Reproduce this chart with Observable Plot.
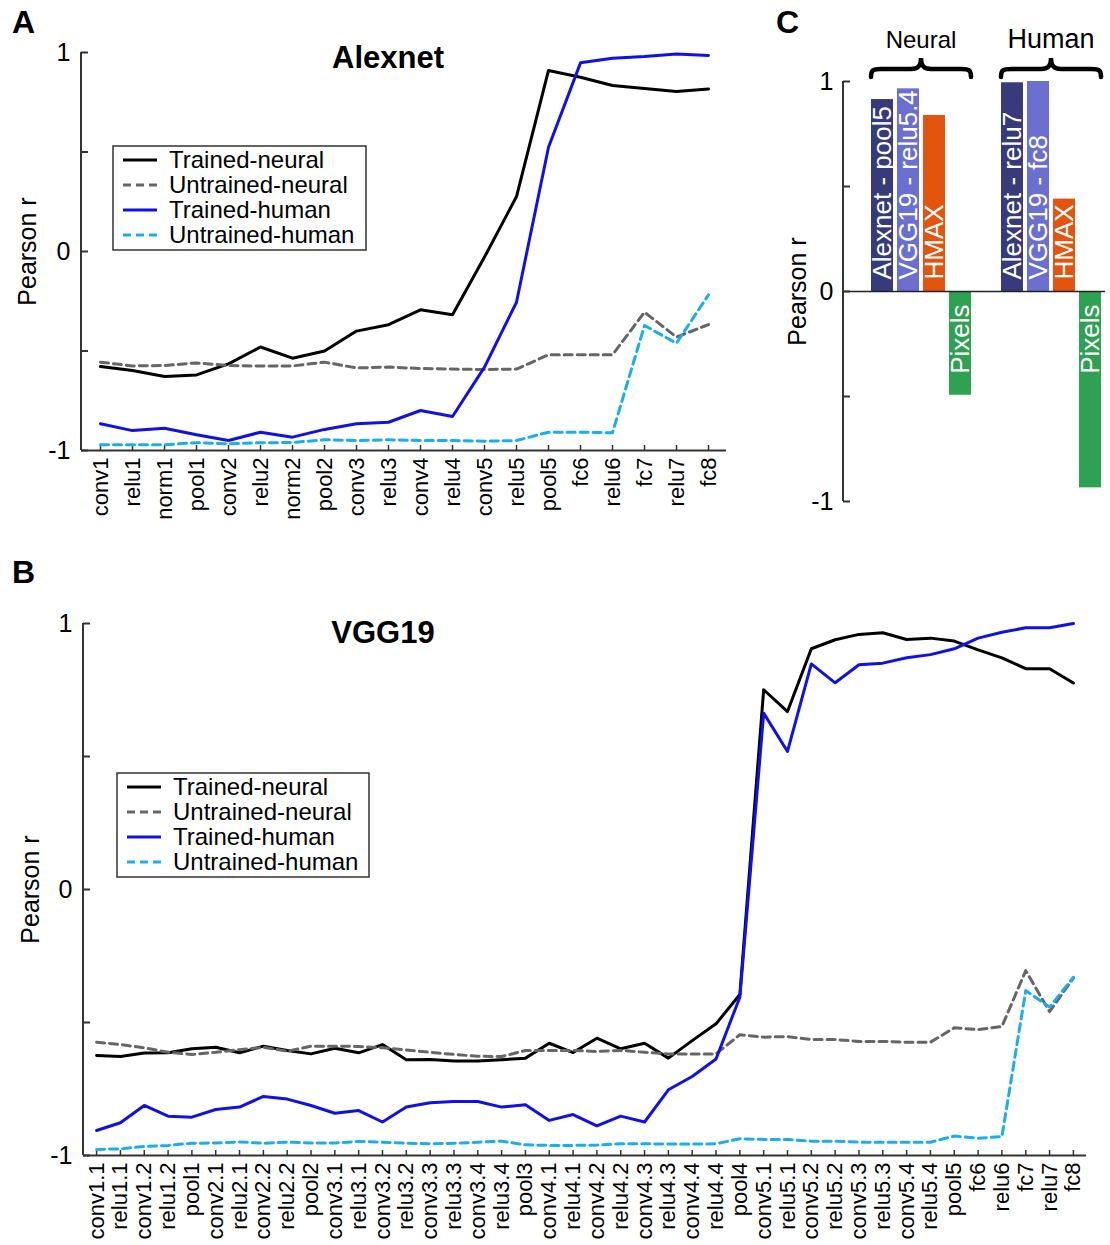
<!DOCTYPE html>
<html><head><meta charset="utf-8">
<script src="https://cdn.jsdelivr.net/npm/d3@7"></script>
<script src="https://cdn.jsdelivr.net/npm/@observablehq/plot@0.6"></script>
<style>
body{margin:0;background:#fff;font-family:"Liberation Sans",Arial,Helvetica,sans-serif;}
#root{position:relative;width:1110px;height:1245px;overflow:hidden;background:#fff;}
#root > svg{position:absolute;}
</style></head>
<body><div id="root"></div>
<script>
const FONT = "Liberation Sans, Arial, Helvetica, sans-serif";

// ---------- Panel A: Alexnet ----------
const alexLayers = ["conv1","relu1","norm1","pool1","conv2","relu2","norm2","pool2","conv3","relu3","conv4","relu4","conv5","relu5","pool5","fc6","relu6","fc7","relu7","fc8"];
const alexTrainedNeural   = [-0.578,-0.598,-0.628,-0.620,-0.565,-0.480,-0.536,-0.500,-0.400,-0.368,-0.293,-0.318,-0.028,0.276,0.910,0.876,0.834,0.819,0.804,0.817];
const alexUntrainedNeural = [-0.556,-0.575,-0.573,-0.560,-0.573,-0.576,-0.575,-0.556,-0.585,-0.581,-0.588,-0.591,-0.593,-0.591,-0.519,-0.519,-0.519,-0.305,-0.430,-0.367];
const alexTrainedHuman    = [-0.866,-0.900,-0.888,-0.921,-0.950,-0.908,-0.933,-0.894,-0.866,-0.858,-0.799,-0.829,-0.581,-0.255,0.524,0.948,0.971,0.980,0.993,0.985];
const alexUntrainedHuman  = [-0.971,-0.971,-0.971,-0.961,-0.966,-0.961,-0.960,-0.946,-0.950,-0.946,-0.950,-0.950,-0.953,-0.950,-0.908,-0.908,-0.911,-0.372,-0.461,-0.218];

// ---------- Panel B: VGG19 ----------
const vggLayers = ["conv1.1","relu1.1","conv1.2","relu1.2","pool1","conv2.1","relu2.1","conv2.2","relu2.2","pool2","conv3.1","relu3.1","conv3.2","relu3.2","conv3.3","relu3.3","conv3.4","relu3.4","pool3","conv4.1","relu4.1","conv4.2","relu4.2","conv4.3","relu4.3","conv4.4","relu4.4","pool4","conv5.1","relu5.1","conv5.2","relu5.2","conv5.3","relu5.3","conv5.4","relu5.4","pool5","fc6","relu6","fc7","relu7","fc8"];
const vggTrainedNeural   = [-0.624,-0.628,-0.615,-0.614,-0.599,-0.593,-0.614,-0.589,-0.605,-0.618,-0.597,-0.614,-0.583,-0.640,-0.639,-0.645,-0.645,-0.640,-0.634,-0.578,-0.613,-0.559,-0.599,-0.578,-0.634,-0.568,-0.505,-0.395,0.751,0.669,0.905,0.939,0.959,0.965,0.940,0.945,0.934,0.901,0.871,0.830,0.830,0.776];
const vggUntrainedNeural = [-0.574,-0.583,-0.595,-0.612,-0.620,-0.612,-0.602,-0.593,-0.608,-0.589,-0.589,-0.590,-0.595,-0.603,-0.612,-0.620,-0.627,-0.628,-0.605,-0.605,-0.605,-0.609,-0.605,-0.612,-0.618,-0.618,-0.618,-0.546,-0.555,-0.553,-0.564,-0.564,-0.571,-0.571,-0.574,-0.574,-0.520,-0.527,-0.515,-0.305,-0.459,-0.333];
const vggTrainedHuman    = [-0.906,-0.877,-0.812,-0.852,-0.856,-0.827,-0.818,-0.778,-0.788,-0.812,-0.841,-0.831,-0.874,-0.818,-0.802,-0.797,-0.797,-0.818,-0.809,-0.868,-0.846,-0.889,-0.852,-0.874,-0.753,-0.703,-0.637,-0.405,0.663,0.519,0.848,0.777,0.845,0.851,0.871,0.883,0.905,0.945,0.967,0.984,0.984,1.000];
const vggUntrainedHuman  = [-0.977,-0.975,-0.966,-0.962,-0.954,-0.953,-0.949,-0.954,-0.950,-0.953,-0.953,-0.947,-0.950,-0.954,-0.956,-0.954,-0.950,-0.946,-0.960,-0.962,-0.962,-0.961,-0.956,-0.956,-0.957,-0.957,-0.956,-0.937,-0.940,-0.940,-0.946,-0.946,-0.950,-0.950,-0.950,-0.950,-0.927,-0.935,-0.929,-0.380,-0.442,-0.330];

// ---------- Panel C: best layers ----------
const cGroups = ["Neural","Neural","Neural","Neural","Human","Human","Human","Human"];
const cModels = ["Alexnet","VGG19","HMAX","Pixels","Alexnet","VGG19","HMAX","Pixels"];
const cLabels = ["Alexnet - pool5","VGG19 - relu5.4","HMAX","Pixels","Alexnet - relu7","VGG19 - fc8","HMAX","Pixels"];
const cValues = [0.914,0.965,0.838,-0.494,0.994,1.000,0.440,-0.935];
const cColors = {Alexnet:"#383b7b", VGG19:"#6b6fd0", HMAX:"#e3540f", Pixels:"#2fa153"};

const seriesNames = ["Trained-neural","Untrained-neural","Trained-human","Untrained-human"];
const seriesColors = ["#000000","#666666","#1010e8","#1aaef0"];
const seriesDash = [null,"8,5",null,"8,5"];

const root = document.getElementById("root");
const NS = "http://www.w3.org/2000/svg";

function leftLine(index, scales, values, dims) {
  const l = document.createElementNS(NS, "line");
  l.setAttribute("x1", dims.marginLeft); l.setAttribute("x2", dims.marginLeft);
  l.setAttribute("y1", dims.marginTop); l.setAttribute("y2", dims.height - dims.marginBottom);
  l.setAttribute("stroke", "#333"); l.setAttribute("stroke-width", 2);
  return l;
}

function linePanel(layers, arrays, o) {
  const marks = [
    Plot.ruleY([-1], {stroke:"#333", strokeWidth:2}),
    leftLine,
    Plot.axisY({ticks:[-1,-0.5,0,0.5,1], tickSize:7, dx:7, tickFormat:() => "", label:null, stroke:"#333", strokeWidth:2}),
    Plot.axisY({ticks:[-1,0,1], tickSize:0, tickPadding:11, tickFormat:d => String(d), label:null, fontSize:25}),
    Plot.axisX({tickSize:5, dy:-5, tickFormat:() => "", label:null, stroke:"#333", strokeWidth:1.5}),
    Plot.axisX({tickSize:0, tickPadding:7, tickRotate:-90, label:null, fontSize:22}),
    Plot.text(["Pearson r"], {text:d => d, frameAnchor:"left", dx:o.labelDx, rotate:-90, textAnchor:"middle", lineAnchor:"middle", fontSize:25})
  ];
  arrays.forEach((vals, i) => {
    const data = layers.map((l, j) => ({layer:l, value:vals[j]}));
    const opts = {x:"layer", y:"value", stroke:seriesColors[i], strokeWidth:3};
    if (seriesDash[i]) opts.strokeDasharray = seriesDash[i];
    marks.push(Plot.line(data, opts));
  });
  const svg = Plot.plot({
    width:o.width, height:o.height,
    marginLeft:o.ml, marginRight:o.mr, marginTop:o.mt, marginBottom:o.mb,
    style:{fontFamily:FONT, fontSize:"22px", background:"transparent", overflow:"visible", color:"#000"},
    x:{type:"point", domain:layers, padding:o.padding},
    y:{domain:[-1,1]},
    marks
  });
  svg.style.left = o.left + "px"; svg.style.top = o.top + "px";
  root.appendChild(svg);
}

linePanel(alexLayers, [alexTrainedNeural, alexUntrainedNeural, alexTrainedHuman, alexUntrainedHuman],
  {left:0, top:0, width:740, height:520, ml:81, mr:14, mt:52, mb:70, padding:0.53, labelDx:-54});

linePanel(vggLayers, [vggTrainedNeural, vggUntrainedNeural, vggTrainedHuman, vggUntrainedHuman],
  {left:0, top:560, width:1110, height:685, ml:83, mr:24, mt:63, mb:90, padding:0.55, labelDx:-53});

// ---------- Panel C plot ----------
const cData = cValues.map((v, i) => ({key:cGroups[i] + " " + cModels[i], group:cGroups[i], model:cModels[i], label:cLabels[i], value:v, color:cColors[cModels[i]]}));
const cDomain = [...cData.filter(d => d.group === "Neural").map(d => d.key), "gap", ...cData.filter(d => d.group === "Human").map(d => d.key)];

function braceMark(index, scales, values, dims) {
  const x = scales.x, y = scales.y;
  const bw = x.bandwidth ? x.bandwidth() : 22.5;
  const g = d3.create("svg:g");
  const top = y(1);
  for (const [grp, fs] of [["Neural", 24], ["Human", 27]]) {
    const keys = cData.filter(d => d.group === grp).map(d => d.key);
    const x0 = x(keys[0]), x1 = x(keys[keys.length - 1]) + bw, xm = (x0 + x1) / 2;
    const yb = top - 12;
    g.append("path")
      .attr("d", `M${x0},${yb+8} C${x0},${yb+1} ${x0+2},${yb} ${x0+10},${yb} L${xm-10},${yb} C${xm-3},${yb} ${xm},${yb-3} ${xm},${yb-11} C${xm},${yb-3} ${xm+3},${yb} ${xm+10},${yb} L${x1-10},${yb} C${x1-2},${yb} ${x1},${yb+1} ${x1},${yb+8}`)
      .attr("fill", "none").attr("stroke", "#000").attr("stroke-width", 4.5).attr("stroke-linecap", "round");
    g.append("text").attr("x", xm).attr("y", top - 33).attr("text-anchor", "middle")
      .attr("font-size", fs).attr("font-family", FONT).text(grp);
  }
  return g.node();
}

{
  const svg = Plot.plot({
    width:350, height:520, marginLeft:83, marginRight:5, marginTop:81, marginBottom:19,
    style:{fontFamily:FONT, fontSize:"22px", background:"transparent", overflow:"visible", color:"#000"},
    x:{type:"band", domain:cDomain, range:[108, 345], paddingInner:0.145, paddingOuter:0.0725, axis:null},
    y:{domain:[-1,1]},
    color:{type:"identity"},
    marks:[
      Plot.barY(cData, {x:"key", y:"value", fill:"color"}),
      Plot.ruleY([0], {stroke:"#222", strokeWidth:1.5}),
      leftLine,
      Plot.axisY({ticks:[-1,-0.5,0,0.5,1], tickSize:7, dx:7, tickFormat:() => "", label:null, stroke:"#333", strokeWidth:2}),
      Plot.axisY({ticks:[-1,0,1], tickSize:0, tickPadding:10, tickFormat:d => String(d), label:null, fontSize:25}),
      Plot.text(["Pearson r"], {text:d => d, frameAnchor:"left", dx:-46, rotate:-90, textAnchor:"middle", lineAnchor:"middle", fontSize:25}),
      Plot.text(cData.filter(d => d.value >= 0), {x:"key", y:0, text:"label", rotate:-90, textAnchor:"start", dy:-12, fill:"white", fontSize:26}),
      Plot.text(cData.filter(d => d.value < 0), {x:"key", y:0, text:"label", rotate:-90, textAnchor:"end", dy:13, fill:"white", fontSize:26}),
      braceMark
    ]
  });
  svg.style.left = "760px"; svg.style.top = "0px";
  root.appendChild(svg);
}

// ---------- Overlay: panel letters, titles, legends ----------
const ov = d3.select(root).append("svg")
  .attr("width", 1110).attr("height", 1245)
  .style("left", "0px").style("top", "0px").style("pointer-events", "none")
  .attr("font-family", FONT);

for (const [t, x, y] of [["A", 12, 33], ["B", 12, 583], ["C", 776, 33]]) {
  ov.append("text").attr("x", x).attr("y", y).attr("font-size", 32).attr("font-weight", "bold").text(t);
}
ov.append("text").attr("x", 388).attr("y", 68).attr("text-anchor", "middle").attr("font-size", 31).attr("font-weight", "bold").text("Alexnet");
ov.append("text").attr("x", 383).attr("y", 643).attr("text-anchor", "middle").attr("font-size", 31).attr("font-weight", "bold").text("VGG19");

function legend(x, y, w, h) {
  const g = ov.append("g");
  g.append("rect").attr("x", x).attr("y", y).attr("width", w).attr("height", h)
    .attr("fill", "#fff").attr("stroke", "#333").attr("stroke-width", 1.5);
  seriesNames.forEach((name, i) => {
    const cy = y + 14 + i * 25;
    const ln = g.append("line").attr("x1", x + 10).attr("x2", x + 44).attr("y1", cy).attr("y2", cy)
      .attr("stroke", seriesColors[i]).attr("stroke-width", 3);
    if (seriesDash[i]) ln.attr("stroke-dasharray", seriesDash[i]);
    g.append("text").attr("x", x + 56).attr("y", cy).attr("dy", "0.35em").attr("font-size", 24).text(name);
  });
}
legend(113, 146, 253, 104);
legend(117, 773, 252, 104);
</script></body></html>
